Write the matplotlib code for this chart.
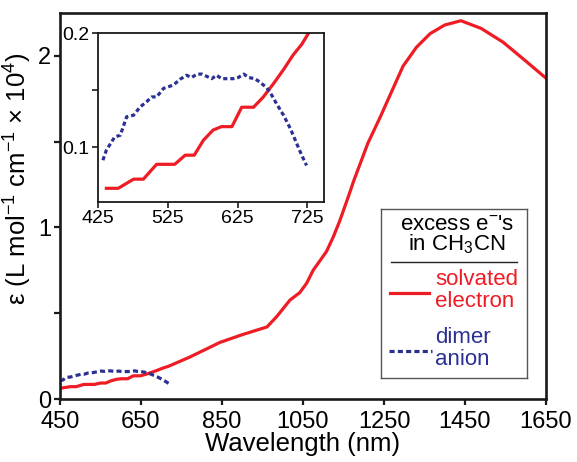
import matplotlib
matplotlib.use('Agg')
import matplotlib.pyplot as plt
from matplotlib.ticker import MultipleLocator

plt.rcParams['font.family'] = ['Liberation Sans', 'DejaVu Sans']
plt.rcParams['mathtext.fontset'] = 'custom'
plt.rcParams['mathtext.rm'] = 'Liberation Sans'
plt.rcParams['mathtext.it'] = 'Liberation Sans:italic'
plt.rcParams['mathtext.bf'] = 'Liberation Sans:bold'

# ---- data ----
solv_wl = [437, 454, 476, 490, 509, 535, 550, 563, 576, 590, 602, 617, 631, 648,
           662, 677, 691, 705, 717, 727, 771, 845, 900, 961, 985, 1018, 1042, 1059,
           1075, 1108, 1125, 1141, 1162, 1175, 1210, 1240, 1297, 1330, 1364, 1400,
           1440, 1490, 1544, 1600, 1650]
solv_eps = [0.064, 0.064, 0.072, 0.072, 0.085, 0.085, 0.093, 0.093, 0.106, 0.115,
            0.118, 0.118, 0.135, 0.135, 0.144, 0.156, 0.168, 0.181, 0.190, 0.200,
            0.245, 0.33, 0.375, 0.42, 0.48, 0.577, 0.62, 0.675, 0.75, 0.86, 0.946,
            1.04, 1.18, 1.27, 1.49, 1.64, 1.94, 2.05, 2.13, 2.18, 2.205, 2.16, 2.08,
            1.97, 1.87]

dimer_wl = [432, 437, 449, 457, 466, 476, 485, 495, 502, 509, 519, 533, 543, 552,
            559, 567, 574, 581, 588, 595, 602, 610, 619, 626, 634, 641, 650, 657,
            667, 674, 681, 691, 701, 710, 717, 724]
dimer_eps = [0.0886, 0.0974, 0.109, 0.1105, 0.1266, 0.128, 0.135, 0.140, 0.144,
             0.144, 0.1515, 0.1544, 0.1596, 0.163, 0.161, 0.164, 0.164, 0.162,
             0.160, 0.163, 0.160, 0.160, 0.160, 0.161, 0.164, 0.161, 0.160, 0.157,
             0.152, 0.1456, 0.138, 0.128, 0.116, 0.103, 0.093, 0.084]

main_xticks = [450, 650, 850, 1050, 1250, 1450, 1650]
main_yticks = [0, 1, 2]
inset_xticks = [425, 525, 625, 725]
inset_yticks = [0.1, 0.2]

RED = '#ee1c25'
BLUE = '#2b3192'
SPINE = '#1a1a1a'

W, H = 577, 462
fig = plt.figure(figsize=(W / 100, H / 100), dpi=100)

def fbox(x0, y0, x1, y1):
    return [x0 / W, 1 - y1 / H, (x1 - x0) / W, (y1 - y0) / H]

# ---- main axes ----
ax = fig.add_axes(fbox(60, 13, 546, 399))
ax.plot(solv_wl, solv_eps, color=RED, lw=2.3, solid_capstyle='round')
ax.plot(dimer_wl, dimer_eps, color=BLUE, lw=2.3, linestyle=(0, (1.6, 1.0)))
ax.set_xlim(450, 1650)
ax.set_ylim(0, 2.25)
ax.set_xticks(main_xticks)
ax.set_yticks(main_yticks)
ax.yaxis.set_minor_locator(MultipleLocator(0.5))
ax.tick_params(axis='both', which='major', labelsize=17, length=4, width=1.6,
               color=SPINE, direction='out')
ax.tick_params(axis='y', which='minor', length=4, width=1.6, color=SPINE)
ax.tick_params(axis='y', pad=2.5)
ax.tick_params(axis='x', pad=5)
for s in ax.spines.values():
    s.set_linewidth(1.9)
    s.set_color(SPINE)
ax.set_xlabel('Wavelength (nm)', fontsize=18.5, labelpad=-1)
ax.set_ylabel('ε (L mol$^{-1}$ cm$^{-1}$ × 10$^{4}$)', fontsize=18.5)
ax.yaxis.set_label_coords(-0.053, 0.57)

# ---- inset ----
ins = fig.add_axes(fbox(98, 33, 324, 202))
ins.plot(solv_wl, solv_eps, color=RED, lw=2.3)
ins.plot(dimer_wl, dimer_eps, color=BLUE, lw=2.3, linestyle=(0, (1.3, 0.9)))
ins.set_xlim(425, 749)
ins.set_ylim(0.052, 0.2)
ins.set_xticks(inset_xticks)
ins.set_yticks(inset_yticks)
ins.yaxis.set_minor_locator(MultipleLocator(0.05))
ins.tick_params(axis='both', which='major', labelsize=14, length=4, width=1.2,
                color=SPINE, direction='out', pad=2)
ins.tick_params(axis='y', which='minor', length=4, width=1.2, color=SPINE)
for s in ins.spines.values():
    s.set_linewidth(1.3)
    s.set_color(SPINE)

# ---- legend box ----
lg = fig.add_axes(fbox(381, 209, 527, 378))
lg.set_xlim(0, 1)
lg.set_ylim(0, 1)
lg.set_xticks([])
lg.set_yticks([])
for s in lg.spines.values():
    s.set_linewidth(1.0)
    s.set_color('#555555')

lg.text(0.52, 0.91, "excess e$^{-}$'s", ha='center', va='center', fontsize=16)
lg.text(0.52, 0.79, 'in CH$_3$CN', ha='center', va='center', fontsize=16)
lg.plot([0.068, 0.932], [0.686, 0.686], color='#222222', lw=1.0)
lg.plot([0.062, 0.33], [0.503, 0.503], color=RED, lw=2.3)
lg.text(0.37, 0.58, 'solvated', ha='left', va='center', fontsize=16, color=RED)
lg.text(0.37, 0.455, 'electron', ha='left', va='center', fontsize=16, color=RED)
lg.plot([0.055, 0.35], [0.16, 0.16], color=BLUE, lw=2.3, linestyle=(0, (1.6, 1.0)))
lg.text(0.37, 0.237, 'dimer', ha='left', va='center', fontsize=16, color=BLUE)
lg.text(0.37, 0.112, 'anion', ha='left', va='center', fontsize=16, color=BLUE)

fig.savefig('out.png', dpi=100)
